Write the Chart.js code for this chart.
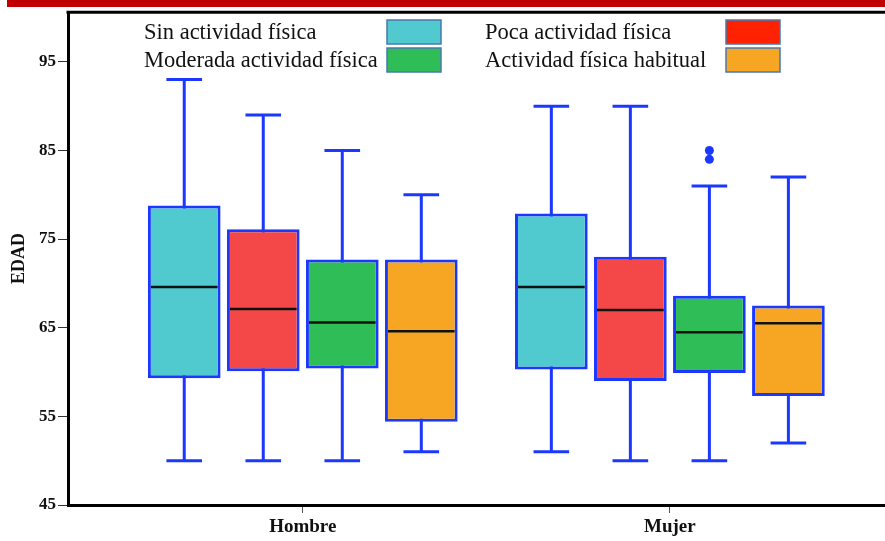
<!DOCTYPE html>
<html>
<head>
<meta charset="utf-8">
<script src="https://cdn.jsdelivr.net/npm/chart.js@4"></script>
<style>
  body { margin: 0; background: #fff; }
</style>
</head>
<body>
<canvas id="chart" width="885" height="541"></canvas>
<script>
const categories = ["Hombre", "Mujer"];
const groups = ["Sin actividad física", "Poca actividad física", "Moderada actividad física", "Actividad física habitual"];

// one row per group, columns = [Hombre, Mujer]
const mins    = [[50, 51], [50, 50], [50, 50], [51, 52]];
const q1s     = [[59.3, 60.3], [60.1, 59.0], [60.4, 59.9], [54.4, 57.3]];
const medians = [[69.6, 69.6], [67.1, 67.0], [65.6, 64.5], [64.6, 65.5]];
const q3s     = [[78.8, 77.9], [76.1, 73.0], [72.7, 68.6], [72.7, 67.5]];
const maxs    = [[93, 90], [89, 90], [85, 81], [80, 82]];
const outliers = [[[], []], [[], []], [[], [85, 84]], [[], []]];
const yTicks = [45, 55, 65, 75, 85, 95];

const boxColors = ["#50cacf", "#f44848", "#2ebd57", "#f6a623"];
const legendColors = ["#50cacf", "#ff2200", "#2ebd57", "#f6a623"];
const blue = "#1c38ff";
const serif = "'Liberation Serif', 'DejaVu Serif', serif";

const datasets = groups.map((g, i) => ({
  label: g,
  data: categories.map((c, j) => ({ x: j + 1, y: [q1s[i][j], q3s[i][j]] })),
  backgroundColor: boxColors[i],
  borderColor: blue,
  borderWidth: 3,
  borderSkipped: false,
  categoryPercentage: 0.861,
  barPercentage: 0.92
}));

const boxplotParts = {
  id: "boxplotParts",
  beforeDraw(chart) {
    const ctx = chart.ctx;
    ctx.save();
    ctx.fillStyle = "#c00000";
    ctx.fillRect(7, 0, chart.width - 7, 7);
    ctx.restore();
  },
  beforeDatasetsDraw(chart) {
    const ctx = chart.ctx;
    const y = chart.scales.y;
    ctx.save();
    ctx.strokeStyle = blue;
    ctx.lineWidth = 3;
    chart.data.datasets.forEach((ds, i) => {
      chart.getDatasetMeta(i).data.forEach((el, j) => {
        const top = y.getPixelForValue(maxs[i][j]);
        const bot = y.getPixelForValue(mins[i][j]);
        const half = el.width * 0.245;
        ctx.beginPath();
        ctx.moveTo(el.x, top);
        ctx.lineTo(el.x, bot);
        ctx.moveTo(el.x - half, top);
        ctx.lineTo(el.x + half, top);
        ctx.moveTo(el.x - half, bot);
        ctx.lineTo(el.x + half, bot);
        ctx.stroke();
      });
    });
    ctx.restore();
  },
  afterDatasetsDraw(chart) {
    const ctx = chart.ctx;
    const y = chart.scales.y;
    const area = chart.chartArea;
    ctx.save();
    chart.data.datasets.forEach((ds, i) => {
      chart.getDatasetMeta(i).data.forEach((el, j) => {
        const m = y.getPixelForValue(medians[i][j]);
        ctx.strokeStyle = "#111";
        ctx.lineWidth = 2.5;
        ctx.beginPath();
        ctx.moveTo(el.x - el.width / 2 + 3, m);
        ctx.lineTo(el.x + el.width / 2 - 3, m);
        ctx.stroke();
        ctx.fillStyle = blue;
        outliers[i][j].forEach(v => {
          ctx.beginPath();
          ctx.arc(el.x, y.getPixelForValue(v), 4.5, 0, Math.PI * 2);
          ctx.fill();
        });
      });
    });

    // top frame line
    ctx.strokeStyle = "#000";
    ctx.lineWidth = 3;
    ctx.beginPath();
    ctx.moveTo(area.left - 1.5, area.top);
    ctx.lineTo(area.right, area.top);
    ctx.stroke();

    // legend: text first, colour swatch to the right
    ctx.font = "22.5px " + serif;
    ctx.textBaseline = "alphabetic";
    ctx.textAlign = "left";
    groups.forEach((g, i) => {
      const col = i % 2, row = Math.floor(i / 2);
      const tx = col ? 485 : 144;
      const bx = col ? 726 : 387;
      const by = row ? 48 : 20;
      ctx.fillStyle = "#111";
      ctx.fillText(g, tx, row ? 67 : 39);
      ctx.fillStyle = legendColors[i];
      ctx.fillRect(bx, by, 54, 24);
      ctx.strokeStyle = "#4a78b0";
      ctx.lineWidth = 1.5;
      ctx.strokeRect(bx, by, 54, 24);
    });
    ctx.restore();
  }
};

new Chart(document.getElementById("chart"), {
  type: "bar",
  data: { datasets },
  options: {
    responsive: false,
    animation: false,
    layout: { padding: { top: 11, right: 0, left: 0, bottom: 0 } },
    plugins: { legend: { display: false }, tooltip: { enabled: false } },
    scales: {
      x: {
        type: "linear",
        min: 0.3605,
        max: 2.586,
        offset: false,
        afterBuildTicks: s => { s.ticks = categories.map((c, j) => ({ value: j + 1 })); },
        afterFit: s => { s.height = 36; },
        grid: { offset: false, drawOnChartArea: false, drawTicks: true, tickLength: 8, color: "#555" },
        border: { display: true, color: "#000", width: 3 },
        ticks: {
          padding: 3,
          color: "#111",
          font: { family: serif, size: 19, weight: "bold" },
          callback: v => categories[v - 1]
        }
      },
      y: {
        min: 45,
        max: 100.6,
        afterBuildTicks: s => { s.ticks = yTicks.map(v => ({ value: v })); },
        afterFit: s => { s.width = 68; },
        grid: { drawOnChartArea: false, drawTicks: true, tickLength: 10, color: "#333" },
        border: { display: true, color: "#000", width: 3 },
        ticks: {
          padding: 2,
          color: "#111",
          font: { family: serif, size: 17, weight: "bold" }
        },
        title: {
          display: true,
          text: "EDAD",
          color: "#111",
          padding: { top: 9, bottom: 0 },
          font: { family: serif, size: 18, weight: "bold" }
        }
      }
    }
  },
  plugins: [boxplotParts]
});
</script>
</body>
</html>
